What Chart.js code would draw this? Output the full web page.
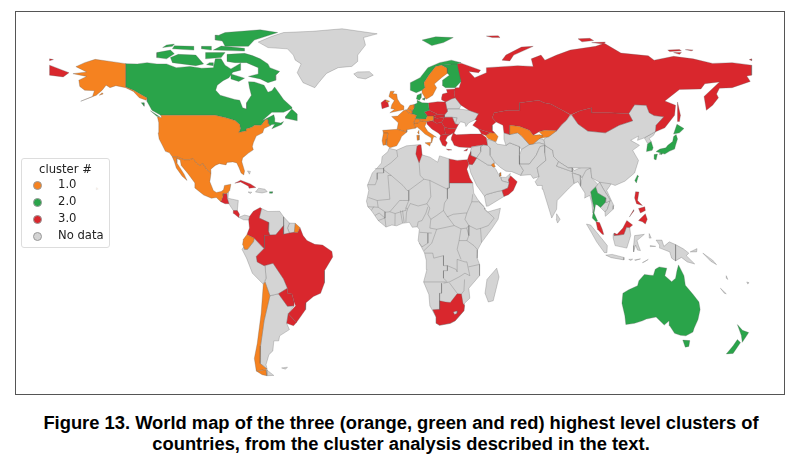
<!DOCTYPE html>
<html>
<head>
<meta charset="utf-8">
<title>World map of clusters</title>
<script src="https://cdn.jsdelivr.net/npm/chart.js@4"></script>
<style>
  html, body { margin: 0; padding: 0; background: #fff; }
  #frame { position: absolute; left: 15px; top: 11px; width: 768px; height: 382px; border: 1px solid #555; }
  #map { filter: blur(0.35px); }
  #legend { position: absolute; left: 21px; top: 158px; width: 87px; height: 88px; border: 1px solid #ddd; border-radius: 3px;
    background: rgba(255,255,255,0.85); font: 11.6px "DejaVu Sans", sans-serif; color: #222; }
  #legend .title { position: absolute; left: 0; right: 0; top: 3px; text-align: center; }
  #legend .row { position: absolute; left: 36px; white-space: nowrap; }
  #legend .dot { position: absolute; left: 11px; width: 7px; height: 7px; border-radius: 50%; border: 0.5px solid #999; }
  #caption { position: absolute; left: 0; width: 802px; top: 412px; text-align: center;
    font: bold 18.35px/21px "Liberation Sans", Arial, sans-serif; color: #000; white-space: nowrap; }
</style>
</head>
<body>
<div id="frame"><canvas id="map" width="768" height="382"></canvas></div>
<div id="legend"></div>
<div id="caption">Figure 13. World map of the three (orange, green and red) highest level clusters of<br>countries, from the cluster analysis described in the text.</div>
<script>
// country outlines as [lon, lat]
var alaska = [[-141,69.6],[-148,70.4],[-156.6,71.3],[-162,70],[-166.5,68.4],[-161,66.3],[-168,65.6],[-161,64.5],[-165,63],[-164.5,60.5],[-162,59],[-157,58.8],[-158,56.5],[-164,54.6],[-156,57],[-153,59],[-151,61],[-149,60],[-146,60.8],[-141,60],[-137,58.5],[-134,56],[-130.5,55],[-130,55.9],[-137,59],[-141,60.3]];
var kodiak = [[-154.5,57],[-152.5,57.5],[-153,58]];
var hawaii = [[-156,19.2],[-155,19.6],[-155.8,20.2]];
var usa = [[-123,49],[-95.15,49],[-89.6,48],[-84.9,46.9],[-82.5,45.3],[-82.1,43.6],[-83,42.1],[-79,42.8],[-79.2,43.5],[-76.3,44.2],[-74.8,45],[-71.5,45],[-70.3,46.2],[-69,47.4],[-67.8,47.1],[-67.8,45.7],[-67,44.8],[-70,43.7],[-70.7,42],[-74,40.7],[-75.5,38],[-76,36.5],[-75.5,35.2],[-78,33.9],[-81,32],[-81.4,30.5],[-80,26.8],[-80.4,25.2],[-81.8,26],[-82.8,28],[-84,30],[-86,30.4],[-89,30.2],[-89.5,29.2],[-93,29.7],[-95,29],[-97.3,27.5],[-97.2,25.9],[-99.5,27.5],[-101.4,29.8],[-103,29],[-104.7,30],[-106.5,31.8],[-108.2,31.3],[-111,31.3],[-114.8,32.5],[-117.1,32.5],[-118.5,34],[-120.6,34.6],[-122,36.8],[-123.8,39.5],[-124.3,42],[-124,46],[-124.7,48.4],[-122.5,48]];
var mexico = [[-117.1,32.5],[-114.8,32.5],[-111,31.3],[-108.2,31.3],[-106.5,31.8],[-104.7,30],[-103,29],[-101.4,29.8],[-99.5,27.5],[-97.2,25.9],[-97.8,22.5],[-96,19],[-94.5,18.2],[-92,18.6],[-90.8,19.3],[-90.3,21],[-87,21.5],[-87.6,19],[-88.2,18.5],[-89.1,17.8],[-91,17.8],[-91,16.8],[-92.2,14.5],[-94.5,16.2],[-97,15.9],[-101,17.2],[-105.5,20],[-105.5,22],[-109,25.7],[-112.5,29],[-113,31.2],[-114.8,31.8],[-114.7,30],[-111,25.5],[-109.5,23],[-112,24.7],[-115,28],[-116,30.5]];
var frenchGuiana = [[-54,5.9],[-51.6,4.2],[-52.8,2.2],[-54.5,2.3]];
var ecuador = [[-75,-0.1],[-78.8,1.4],[-80.6,-0.5],[-81,-2.5],[-80,-4.5],[-78.5,-4.5],[-75.5,-1.5]];
var chile = [[-70.4,-18.4],[-69.5,-17.5],[-67,-23],[-70,-33],[-71.8,-43],[-72,-50],[-68.4,-52.3],[-74,-53],[-75,-48],[-73.5,-42],[-71.5,-30]];
var fuegoChile = [[-69,-52.5],[-68.6,-54.9],[-71,-54.5],[-74,-53]];
var unitedKingdom = [[-5.5,50],[1.4,51.2],[1.7,52.7],[0,53.5],[-1.6,55.5],[-2,57.5],[-4,57.6],[-3.2,58.6],[-5.2,58.6],[-6,56.5],[-3.2,54.9],[-4.5,53.2],[-5,51.7],[-3,51.4]];
var northernIreland = [[-7.3,55.1],[-5.6,54.6],[-6.5,54.1],[-7.6,54.5]];
var portugal = [[-9.5,38.8],[-8.8,41.9],[-6.5,41.9],[-7,39.5],[-7.4,37.2],[-9,37]];
var spain = [[-8.8,41.9],[-9.2,43],[-1.8,43.4],[3.2,42.3],[0.5,40.5],[-0.3,39],[-2,36.8],[-5.5,36],[-7.4,37.2],[-7,39.5],[-6.5,41.9]];
var france = [[-1.8,43.4],[-1.2,46],[-4.6,48.5],[-1.5,48.7],[1.6,50.9],[2.5,51.1],[4.2,49.9],[8.2,49],[7.5,47.6],[6.7,46],[7.5,43.8],[3.2,43.2],[3.2,42.3]];
var corsica = [[8.7,42],[9.4,43],[9.5,41.4]];
var belgium = [[2.5,51.1],[4,51.4],[6,50.8],[6,49.5],[4.2,49.9]];
var netherlands = [[3.5,51.4],[4.8,53],[7,53.3],[7,52],[6,50.8],[4,51.4]];
var sweden = [[11,59],[12.5,60],[12,62],[14.5,65],[18,68.5],[21,69],[23.8,67.8],[24,65.8],[21,64],[17.3,61.5],[18.5,60],[16.5,57],[14.5,56],[13,55.4],[11,58]];
var austria = [[9.5,47.5],[13,47.5],[13.7,48.7],[17,48.7],[17,47],[13.5,46.5],[10,46.8]];
var switzerland = [[6.7,46],[7.5,47.6],[9.5,47.5],[10,46.8],[9,45.9]];
var italy = [[6.7,46],[9,45.9],[10,46.8],[13.5,46.5],[12.4,44.5],[14,42.5],[18.4,40.2],[17,40.5],[16.5,39.5],[16,38],[15.7,40],[12.5,41.5],[10.5,43],[8.5,44.3],[7.5,43.8]];
var sicily = [[12.5,38],[15.5,38.2],[15,36.7]];
var sardinia = [[8.3,41],[9.6,41],[9.5,39.1],[8.5,39]];
var azerbaijan = [[44.5,41.2],[46,42],[48.5,41.8],[50,40.5],[49,38.5],[48.5,38.5],[44.8,39.7],[43.5,41]];
var uzbekistan = [[56,45],[61,44.5],[66,43],[68,41],[71,41.2],[73,40.8],[68,37.5],[66,37.3],[62,40.8],[60,42],[56,41.3]];
var kyrgyzstan = [[71,42.4],[74,43],[80,42.8],[76,40.4],[71,39.7],[71,41.2],[73,40.8]];
var kuwait = [[46.5,29.2],[47.7,30],[48.6,28.5],[47.5,28.3]];
var qatar = [[50.8,24.6],[51.7,24.9],[51.5,26.2],[50.9,26]];

var canada = [[-123,49],[-95.15,49],[-89.6,48],[-84.9,46.9],[-82.5,45.3],[-82.1,43.6],[-83,42.1],[-79,42.8],[-79.2,43.5],[-76.3,44.2],[-74.8,45],[-71.5,45],[-70.3,46.2],[-69,47.4],[-67.8,47.1],[-67.8,45.7],[-67,44.8],[-66,45.3],[-64.5,45.4],[-66,43.6],[-61,45.3],[-60,46.5],[-61.5,45.9],[-64.5,46.3],[-64.5,47.7],[-65,49.2],[-71,46.8],[-66,50.2],[-60,50.2],[-56,51.6],[-55.7,52.2],[-60,55.3],[-62,57.5],[-64.6,60.3],[-66,58.8],[-68,58.2],[-70,61],[-75,62.3],[-78,62.4],[-77.5,60],[-76.5,57],[-79,54],[-79,51.5],[-81,52],[-82.5,55],[-85,55.3],[-92.5,57],[-94.8,59],[-94,61],[-91,62.8],[-88,64],[-86,66.2],[-82,67],[-82,69.8],[-87,67.5],[-90,69],[-92,71.5],[-95,71.5],[-96,68],[-102,67.8],[-108,68.5],[-115,68],[-120,69.5],[-125,69.5],[-130,70],[-135,69.5],[-141,69.6],[-141,60.3],[-137,59],[-130,55.9],[-130,54.5],[-127.5,51]];
var baffin = [[-80,73.7],[-76,72.8],[-72,71.5],[-68,69.5],[-67,68],[-62,66.5],[-64,65],[-64,63],[-68,62],[-72,63.5],[-78,64.5],[-73,65.5],[-73,68],[-79,70],[-85,70],[-89,70.5],[-89,73.3]];
var victoria = [[-117,70],[-105,68.8],[-101,69.5],[-105,73],[-114,73.3],[-118,72]];
var banks = [[-125,72],[-120,71.5],[-116,73.5],[-118,75],[-125,74]];
var ellesmere = [[-90,76.5],[-78,76.5],[-75,79],[-63,82],[-72,83.1],[-90,82],[-93,81]];
var devon = [[-96,75],[-80,74.6],[-80,75.7],[-92,76.6]];
var axelHeiberg = [[-95,79],[-86,78],[-88,80.5],[-95,81]];
var melville = [[-117,75.5],[-106,75],[-106,76.5],[-116,76.7]];
var bathurst = [[-102,75.5],[-97,75],[-97,76.5],[-102,76.5]];
var princePatrick = [[-122,76],[-117,76.5],[-116,77.4],[-120,77]];
var somerset = [[-100,74],[-90,74],[-92,72],[-100,71.5]];
var kingWilliam = [[-99.5,69.2],[-96,68.8],[-96,70],[-98,70]];
var southampton = [[-87,65.5],[-80,63.8],[-83,62.5],[-87,63.5]];
var newfoundland = [[-59,47.8],[-53,46.8],[-53,49.5],[-55.8,51.5],[-59,48.5]];
var vancouver = [[-128.3,50.8],[-123.5,48.4],[-125,48.6]];
var haida = [[-133,54],[-131.5,54],[-131.5,52.6]];
var puertoRico = [[-67.2,18.5],[-65.6,18.5],[-65.8,17.9],[-67.2,17.9]];
var germany = [[6,50.8],[7,52],[7,53.3],[8.8,54],[8.5,55],[11,54],[14.2,53.9],[14.7,51],[12.2,50.3],[13.7,48.7],[13,47.5],[7.5,47.6],[8.2,49],[6,49.5]];
var denmark = [[8.1,55.5],[8.5,57],[10.6,57.7],[10.5,56],[9.7,55]];
var zealand = [[11,55.5],[12.5,56],[12.2,55]];
var norway = [[5,59],[5,62],[10,64],[14,68],[20,70],[26,71],[31,70],[29,69.5],[26,69.5],[21,69],[18,68.5],[14.5,65],[12,62],[12.5,60],[11,59],[8,58]];
var svalbard = [[11,79],[16,76.8],[22,78],[27,80],[18,80.3]];
var finland = [[24,65.8],[23.8,67.8],[21,69],[26,69.5],[29,69.5],[31,62.5],[28,60],[23,60],[21.3,61],[21.5,63],[25,65]];
var southKorea = [[126.1,34.5],[126.6,37.5],[128.5,38.5],[129.5,36],[129,35]];
var honshu = [[131,34.5],[133,35.5],[136,36],[137,37],[139.5,38.5],[140,40.5],[141.3,41.3],[142,39.5],[141,37],[140.5,35.5],[138,34.7],[135.5,33.5],[133,34]];
var hokkaido = [[140,41.5],[141.7,45.4],[145.3,43.7],[143,42]];
var kyushu = [[130,33.3],[131.7,33.5],[131,31.2],[130.2,31.5]];
var shikoku = [[132.5,33.5],[134.5,34.2],[134,33.3]];
var taiwan = [[120.1,23],[121.5,25.2],[121.9,24.7],[120.9,22]];
var thailand = [[97.5,18.5],[100,20.4],[101,18],[105.3,16],[105,14.3],[102.5,12.2],[100.9,13.2],[100,13.4],[99.2,10],[101,6.8],[100.2,6.5],[98.3,8],[98.7,10],[99.2,12],[98.3,15]];
var australia = [[142.5,-10.7],[145.3,-15],[146,-18.8],[150,-22.5],[153,-25.5],[153.6,-28.5],[152.5,-32.5],[150.5,-36],[149.9,-37.5],[146.3,-39],[143.5,-38.8],[140.5,-38],[138,-35],[137.7,-33],[135.2,-34.7],[131,-31.5],[126,-32.3],[124,-33],[120,-34],[115.5,-34.5],[115,-31],[113.5,-26],[114,-22],[117,-20.6],[121.5,-19],[122.2,-17],[125,-14.5],[128,-14.8],[129.6,-14.9],[130.6,-12.4],[132.6,-11.5],[136.5,-12],[135.5,-15],[139,-17.4],[141,-16],[141.7,-13]];
var tasmania = [[144.7,-40.7],[148.3,-40.9],[147.8,-43.2],[146,-43.5]];
var newZealandN = [[172.7,-34.5],[175.3,-36.8],[178.5,-37.7],[177,-39.5],[175.2,-41.6],[174.7,-38.8]];
var newZealandS = [[172.7,-40.5],[174.3,-41.7],[170.5,-46],[167,-46.2],[170.5,-43]];

var chukotka = [[-180,69],[-175,67.5],[-170,66],[-173,64.3],[-180,65]];
var wrangel = [[-180,71.5],[-178,71.2],[-180,70.8]];
var wrangelEast = [[178.8,71.2],[180,71.5],[180,70.8]];
var russia = [[28,60],[30,60],[31,62.5],[29,66],[29,69.5],[31,69.8],[41,67],[40,66],[35,66.5],[38,64],[44,66],[44,68],[54,68.5],[60,68.8],[68,68.5],[67,71.5],[72,73],[74,71],[80,73],[87,75],[100,76.5],[104.5,77.7],[113,73.8],[127,72.7],[130,71],[140,72.5],[150,71.5],[160,69.7],[170,70],[180,69],[180,65],[177.5,64.7],[179.3,62.5],[170,60],[163.5,59.8],[162,57.5],[163,56],[160,53],[156.8,51],[155.6,56.5],[163.5,62.3],[156,61.6],[154,59.5],[143,59.3],[135.5,54.7],[141,53],[140.5,49],[135.5,44],[131,42.5],[130.7,42.3],[131,45],[135,48.4],[130,48.9],[127.5,50],[126,53],[120,53.2],[117,49.7],[113,49.8],[107,50],[98,50],[98,52],[92,50.8],[87.3,49.2],[83,51],[77,53.5],[73.5,54],[71,55],[61,54],[61,51],[55,51],[48,50],[47,48],[49,46.3],[47,45],[47,43],[48.5,41.8],[46,42],[40,43.5],[37,45],[39,47],[38.2,47.2],[40,49.6],[35,51],[31,53],[28,56],[27.5,57.5]];
var novayaZemlya = [[52,71],[56,70.7],[58,73],[68,76.5],[62,76.2],[54,73]];
var franzJosef = [[44,80.6],[50,80.7],[51,80],[47,80]];
var severnayaN = [[91,79.5],[97,79.7],[99,78.8],[93,78.3]];
var severnayaS = [[98,78],[105,78.2],[104,77.4]];
var newSiberianA = [[137,75],[143,75.2],[144,74.7],[138,74.4]];
var newSiberianB = [[146,75.2],[150,75],[149,74.7]];
var newSiberianC = [[140,74],[144,74],[143,73.3]];
var sakhalin = [[142,54.3],[143.5,49],[143,46.5],[142,46.5],[142,50]];
var kazakhstan = [[47,48],[48,50],[55,51],[61,51],[61,54],[71,55],[73.5,54],[77,53.5],[83,51],[87,49.2],[85,47],[82.5,45.2],[80,42.8],[74,43],[71,42.4],[68,41],[66,43],[61,44.5],[56,45],[56,41.3],[53,42],[52.5,45],[49,46.3]];
var mongolia = [[87.7,49.2],[92,50.8],[98,52],[98,50],[107,50],[113,49.8],[117,49.7],[119,46.8],[112,45],[105,42],[96,42.7],[91,45.5]];
var turkey = [[26,40],[27,42],[28.5,41.2],[36,41.5],[41.5,41.5],[44,40],[44.5,37],[42.5,37.2],[36.5,36.5],[36,36],[32,36.2],[30,36.3],[27.5,37],[26.3,39]];
var georgia = [[40,43.5],[46,42],[44.5,41.2],[43.5,41],[41.5,41.5]];
var cyprus = [[32.4,34.8],[34.5,35.7],[34,34.8]];
var levant = [[34.3,31.3],[35,33],[36,34.5],[36,33],[39,32],[37.5,30],[36.8,29.3],[35,29.5]];
var egypt = [[25,31.6],[29,31],[32,31.2],[34.3,31.3],[34.9,29.4],[34,27.5],[35.5,24],[37,22],[25,22]];
var tunisia = [[9,37],[10.5,37.2],[11,33.2],[9.5,30],[7.8,33.5],[8.4,36.5]];
var oman = [[56.4,24.9],[59.8,22.5],[57.8,19],[55.3,17.3],[53,16.6],[52,19],[55,20],[55.7,22],[55.3,23.2]];
var southAfrica = [[16.5,-28.6],[20,-28.4],[20,-25],[23,-25.5],[25.5,-25.7],[29,-22.2],[31.2,-22.3],[32,-26],[32.8,-26.9],[32.5,-29],[28,-33],[25.5,-34],[20,-34.8],[18.3,-34],[18.2,-31.5]];
var ireland = [[-10,54],[-8,55.2],[-7.3,55.1],[-7.6,54.5],[-6.5,54.1],[-6,52.5],[-9.5,51.6]];
var poland = [[14.2,53.9],[19,54.4],[23,54.3],[24,50.5],[22.5,49.1],[19,49.4],[14.7,51]];
var baltics = [[21,56],[21.5,57.5],[24,58],[23.5,59.3],[28,59.5],[27.5,57.5],[28,56],[26,55.5],[23,54.3],[21,55.2]];
var czechia = [[12.2,50.3],[14.7,51],[19,49.4],[17,48.7],[13.7,48.7]];
var slovakia = [[17,48.2],[17,48.7],[19,49.4],[22.5,49.1],[22.5,48.2],[18.8,47.8]];
var hungary = [[16.2,46.8],[17,47],[17,48.2],[18.8,47.8],[22.5,48.2],[21,46.2],[18.5,45.8]];
var romania = [[21,46.2],[22.5,48.2],[26.5,48.2],[28,45.5],[29.7,45.3],[28.6,43.8],[25,43.7],[22.5,44.2]];
var bulgaria = [[22.5,44.2],[25,43.7],[28.6,43.8],[27.5,42],[26,41.5],[23,41.4]];
var balkans = [[13.5,45.5],[13.5,46.5],[16.2,46.8],[18.5,45.8],[21,46.2],[22.5,44.2],[23,41.4],[20.5,41],[19.3,41.9],[16,43.5]];
var greece = [[20.5,41],[23,41.4],[26,41.5],[24,40.5],[23,39],[24,38],[23,36.5],[21.5,37],[20,39.5]];
var crete = [[23.5,35.5],[26.3,35.2],[24.5,35]];
var guatemala = [[-92.2,14.5],[-91,16.8],[-91,17.8],[-89.1,17.8],[-88.9,15.9],[-88,13.7],[-90,13.7]];
var costaRica = [[-85.8,11],[-83.7,11],[-82.6,9.5],[-83,8.2],[-85.5,9.8]];
var cuba = [[-85,21.9],[-82,23.1],[-77,21.6],[-74.2,20.2],[-77.7,19.9],[-78,20.7],[-82,22.4]];
var colombia = [[-77.4,8.7],[-75.5,10.7],[-72,12.2],[-71.3,11.8],[-72.5,8],[-67.5,6.2],[-67.8,2.8],[-67,1.2],[-69.8,1.1],[-69.8,-4.2],[-70.5,-3.8],[-75,-0.1],[-78.8,1.4],[-77.5,4],[-77.9,7.2]];
var brazil = [[-51.6,4.2],[-50,1],[-48,-1],[-44,-2.5],[-40,-2.8],[-35.2,-5.3],[-34.8,-7.5],[-39,-13],[-39,-17.8],[-41,-22],[-44.7,-23.3],[-48.5,-25.8],[-48.7,-28.5],[-53.4,-33.7],[-57.6,-30.2],[-53.8,-27],[-54.6,-25.5],[-55.7,-22.3],[-58,-22],[-58,-20],[-60,-16.3],[-65.4,-10],[-70,-11],[-73.5,-9.5],[-74,-7.3],[-70,-4.2],[-69.8,1.1],[-67,1.2],[-64,1.3],[-60,5],[-60,1.5],[-57,2],[-54.5,2.3],[-52.8,2.2]];
var paraguay = [[-58,-20],[-62.6,-22.2],[-58,-27.2],[-54.6,-27],[-54.6,-25.5],[-55.7,-22.3],[-58,-22]];
var uruguay = [[-57.6,-30.2],[-53.4,-33.7],[-54.9,-35],[-58.4,-34]];
var luzon = [[120.5,18.5],[122.2,18.4],[121.5,15],[124,13],[121,13.7],[120,16]];
var mindanao = [[122,7],[125.5,9.7],[126.5,7.5],[125.5,5.6],[124,6.5]];
var palawan = [[117.3,8.4],[119.5,11.3],[119.5,10.7]];
var visayas = [[122,11.8],[123,10],[125.5,11],[125.2,12.5]];
var malaya = [[100.2,6.5],[102,6.2],[103.4,3.5],[104.2,1.4],[103.4,1.5],[101,3.5]];
var sabahSarawak = [[109.6,2],[111,1.5],[114,4],[116,7],[119,5.2],[117.5,4.2],[115.8,4.3],[114.5,1.5],[112,1.2],[109.6,1]];

var greenland = [[-73,78.2],[-68,76],[-58,75.5],[-55,73],[-54,71],[-51,69.5],[-53,66],[-50,62],[-44,60],[-42,62],[-38,65.7],[-32,68],[-25,68.5],[-22,70.5],[-22,73],[-20,75],[-18,77],[-19,80],[-12,81.5],[-30,83.5],[-45,82.5],[-60,82],[-66,80.5]];
var iceland = [[-24,65.5],[-22,64],[-18,63.5],[-14,65],[-16,66.4],[-22,66.3]];
var centralAmerica = [[-89.1,17.8],[-88.2,18.5],[-88.5,15.9],[-83.2,15],[-83.7,11],[-85.8,11],[-87.5,13],[-88,13.7],[-88.9,15.9]];
var panama = [[-83,8.3],[-80,9.2],[-77.4,8.7],[-77.9,7.2],[-80.5,7.3]];
var venezuela = [[-71.3,11.8],[-68,10.6],[-62,10.7],[-60,8.5],[-60,5],[-64,1.3],[-67,1.2],[-67.8,2.8],[-67.5,6.2],[-72.5,8]];
var guyana = [[-60,8.5],[-57,6],[-58,4],[-57,2],[-60,1.5],[-60,5]];
var suriname = [[-57,6],[-54,5.9],[-54.5,2.3],[-57,2],[-58,4]];
var peru = [[-80.3,-3.4],[-81.3,-4.5],[-79,-8],[-76,-14],[-70.4,-18.4],[-69,-16],[-69.5,-11],[-70,-11],[-73.5,-9.5],[-74,-7.3],[-70,-4.2],[-70.5,-3.8],[-75,-0.1],[-75.5,-1.5],[-78.5,-4.5],[-80,-4.5]];
var bolivia = [[-69.5,-11],[-65.4,-10],[-60,-16.3],[-58,-20],[-62.6,-22.2],[-67,-23],[-69.5,-17.5],[-69,-16]];
var argentina = [[-67,-23],[-62.6,-22.2],[-58,-27.2],[-54.6,-27],[-57.6,-30.2],[-58.4,-34],[-57,-36.5],[-62,-39],[-62.5,-41],[-65,-41],[-65.5,-45],[-67.5,-46.5],[-69,-50.5],[-68.4,-52.3],[-72,-50],[-71.8,-43],[-70,-33]];
var fuegoArgentina = [[-68.6,-52.6],[-65,-54.8],[-68.6,-54.9]];
var falklands = [[-61,-51.8],[-58,-51.5],[-59,-52.3]];
var hispaniola = [[-74.4,18.4],[-72.8,19.9],[-69.5,19.5],[-68.4,18.5],[-71,18]];
var jamaica = [[-78.2,18.4],[-76.3,18.3],[-77,17.8]];
var bahamas = [[-78.5,26.8],[-77,26.6],[-77.5,25.5]];
var africa = [[-5.9,35.8],[-2,35.1],[3,36.8],[10,37.3],[11,33.2],[15,32.3],[19,30.3],[20,32.8],[25,31.6],[25,22],[37,22],[37.5,18],[39.5,15.5],[43.2,12],[43.2,11.5],[44.5,10.4],[51.2,11.9],[50,7.5],[47,4],[41.5,-1.8],[39.5,-4.7],[39.3,-8],[40.5,-10.5],[40.5,-15],[35,-20],[35.5,-24],[32.8,-26],[32.5,-29],[28,-33],[25.5,-34],[20,-34.8],[18.3,-34],[18.2,-31.5],[15,-27],[14.5,-22.5],[11.8,-17.5],[13.5,-12.5],[13.2,-9],[12.3,-6],[9,-1],[9.6,3.5],[8.5,4.5],[6,4.3],[4.5,6.3],[1,5.9],[-2,4.9],[-4.5,5.2],[-7.5,4.4],[-11.5,7],[-13.2,9],[-15,11],[-16.8,12.5],[-17.5,14.7],[-16.3,19],[-17,21],[-14.5,26],[-12,28],[-9.8,30],[-9.5,32.5],[-6.5,34.5]];
var lesotho = [[27,-29.5],[29,-29],[29,-30],[27.7,-30.5]];
var madagascar = [[49.3,-12],[50.5,-15.5],[47.5,-25],[45,-25.5],[43.3,-22],[44.3,-16.5]];
var ukraine = [[24,50.5],[24,51.5],[30,51.5],[35,51],[40,49.6],[38.2,47.2],[35,46],[33.5,44.5],[33,46],[30.7,46.4],[29.7,45.3],[28,45.5],[29,48],[26.5,48.2],[22.5,48.2],[22.5,49.1]];
var belarus = [[23,54.3],[26,55.5],[28,56],[31,53],[30,51.5],[24,51.5],[24,50.5]];
var moldova = [[26.5,48.2],[29,48],[30,46.4],[28,45.5]];
var china = [[73.5,39.5],[80,42.8],[82.5,45.2],[85,47],[87.5,49.2],[91,45.5],[96,42.7],[105,42],[112,45],[119,46.8],[117,49.7],[120,53.2],[126,53],[127.5,50],[130,48.9],[135,48.4],[131,45],[130.7,42.5],[125,40],[121.5,39],[122,40.7],[118,39],[122.5,37],[119,35],[122,31],[120,26],[115,22.7],[110,21],[108,21.6],[102,22.3],[98,24],[97.5,28],[92,28],[86,28],[81,30.5],[78.5,32.5],[78,35],[74,37]];
var northKorea = [[125,40],[130.7,42.5],[129.7,41],[127.5,39.7],[128.5,38.5],[126.6,37.8]];
var myanmar = [[92.3,20.7],[93,24],[95,27],[97.5,28],[98,24],[101.1,21.5],[100,20.4],[97.5,18.5],[98.3,15],[99.2,12],[98.6,10],[98,14],[97,17],[94.3,16],[94.5,18]];
var laos = [[101.1,21.5],[102,22.3],[104,19.5],[106.5,16.5],[107.5,15],[105.5,14.2],[105.3,16],[101,18],[100,20.4]];
var vietnam = [[102,22.3],[105,23],[108,21.6],[105.7,19],[109.3,13],[109,11.5],[105.5,9],[105,8.7],[104.8,10.4],[106,11.5],[107.5,15],[106.5,16.5],[104,19.5]];
var cambodia = [[102.5,12.2],[105,14.3],[105.5,14.2],[107.5,15],[106,11.5],[104.8,10.4]];
var bangladesh = [[88,26],[92,25],[92.3,20.7],[91,22.5],[89,21.8]];
var india = [[74,37],[78,35],[78.5,32.5],[81,30.5],[80,28.7],[88,26.5],[88.1,28],[89,27],[96,29.3],[97,27.5],[93,24],[92,25],[88,26],[89,21.8],[86.5,20],[80.3,15],[80,11.5],[77.5,8],[73,19.5],[72.6,21],[70,21],[69,22.5],[71,24.5],[70,28],[74.5,31],[74,34]];
var nepal = [[80,28.7],[81,30.5],[86,28],[88.1,28],[88,26.5]];
var pakistan = [[74,37],[74,34],[74.5,31],[70,28],[71,24.5],[68,23.8],[66.7,25.3],[61.6,25],[63,27],[61,29.5],[66,29.5],[69.5,33],[71.5,36.5]];
var afghanistan = [[61,29.5],[66,29.5],[69.5,33],[71.5,36.5],[74.8,37.2],[71,38],[66,37.3],[62,35.3],[60.9,33]];
var tajikistan = [[68,37.5],[71,39.7],[73,39.5],[74.8,37.2],[71,38],[66,37.3]];
var turkmenistan = [[53,42],[56,41.3],[60,42],[62,40.8],[66,37.3],[62,35.3],[61,36.5],[56,38],[54,37],[53,39.5]];
var sriLanka = [[80,9.7],[81.8,7.5],[80.5,6],[79.8,7.5]];
var iran = [[44.5,39.5],[48.5,38.5],[49.5,37.5],[54,37],[56,38],[61,36.5],[60.9,33],[61,29.5],[63,27],[61.6,25],[57,26.5],[54,26.7],[51.5,28],[48.5,30],[46,33],[46,36],[44.5,37]];
var iraq = [[42.5,37.2],[44.5,37],[46,36],[46,33],[48.5,30],[47.7,29.3],[46.5,29],[44.7,29.2],[39,32],[41.2,34.5],[41.2,36.5]];
var syria = [[36.5,36.3],[42.5,37.2],[41.2,36.5],[41.2,34.5],[39,32],[36,33],[35.9,35]];
var saudiArabia = [[34.9,29.4],[36.8,29.3],[37.5,30],[39,32],[44.7,29.2],[46.5,29],[47.7,28.5],[48.8,27.5],[50.2,25.5],[51,24.6],[52,22.8],[55.7,22],[55,20],[52,19],[49,18.5],[44,17.4],[43,16.7],[39,21],[36,26]];
var uae = [[51.5,24.3],[54,24.2],[56.3,25.8],[55.3,23.2],[55.7,22],[52,22.8]];
var yemen = [[43,16.7],[44,12.7],[45,12.8],[53,16.6],[52,19],[49,18.5],[44,17.4]];
var sumatra = [[95.3,5.6],[97.5,5.2],[104,-1],[106,-3],[105.8,-5.8],[104.5,-5.8],[100.5,-1.5],[98,2]];
var java = [[105.2,-6.8],[108.5,-6.5],[114.5,-7.7],[114.5,-8.7],[108,-7.8]];
var borneo = [[109,1.3],[109.6,2],[109.6,1],[112,1.2],[114.5,1.5],[115.8,4.3],[117.5,4.2],[118,1],[116,-4],[110,-3],[109,0]];
var sulawesi = [[119.5,-5.5],[120.5,-2.8],[121.5,-4.8],[123,-5],[122,-3],[121.2,-1],[125,1.5],[120,1],[119.5,-3]];
var halmahera = [[127.5,1.8],[128.5,0],[127.8,0]];
var seram = [[128,-3],[130.8,-3.3],[128,-3.4]];
var newGuinea = [[131,-0.8],[134,-0.8],[135,-3.3],[137.8,-1.5],[141,-2.6],[145,-4.3],[147.8,-6],[146.5,-7],[150.8,-10.3],[147,-9.5],[144,-7.7],[141,-9.1],[139,-8],[138,-5.5],[133,-4],[132.8,-2.8]];
var newBritain = [[148.5,-5.5],[152,-4.2],[151.8,-5.5]];
var solomons = [[155,-6],[160,-8.8],[162,-10.6],[159,-9.2]];
var vanuatu = [[167,-15],[167.8,-16.5],[167,-16]];
var fiji = [[177.5,-17.5],[178.7,-17.8],[178,-18.3]];
var newCaledonia = [[164,-20],[167,-22.2],[166,-22]];
var timor = [[124,-9.8],[127,-8.5],[125,-9.5]];
var sumbawa = [[117,-8.5],[119,-8.4],[118,-8.9]];
var flores = [[120,-8.7],[123,-8.3],[120.5,-8.9]];

// inner borders of the no-data countries, thin lines only
var borderLines = [
  [[-2,35.1],[-1.5,32.5],[-5,30],[-8.7,28],[-8.7,27.3]], [[-8.7,27.7],[-13.2,27.7]], [[-8.7,27.3],[-8.7,26],[-12,26],[-12,23.4],[-13,21.3],[-17,21.3]],
  [[-8.7,27.3],[-4.8,25],[-6.5,25],[-5.5,15.5],[-12,15],[-16.5,16.2]], [[-4.8,25],[1.2,21],[3.3,19],[4.2,19],[4.2,15],[1,15],[-0.5,15],[-5.5,10.5]],
  [[4.2,19],[12,23.5]], [[9.5,30],[10,25],[12,23.5]], [[25,20],[24,19.5],[15,23],[12,23.5]], [[25,22],[25,20],[24,20],[24,15.7],[22.5,14],[22,11]],
  [[15,23],[15.5,16.5],[13.5,13.7]], [[15.5,7.5],[18.5,9],[22,11]], [[13.5,13.7],[15,12],[14,9.5],[15.5,7.5]],
  [[2.7,12],[3.6,11.7],[5,13.8],[9,12.8],[13.5,13.7]], [[2.7,6.4],[3,10],[3.6,11.7]], [[8.5,4.5],[9,6.5],[11,7],[13,10],[14,12.5]],
  [[-5.5,10.5],[-2.8,9.8],[2.3,11],[2.7,12],[4.2,15]], [[-2.9,5],[-2.8,9.8]], [[-0.1,11],[1,6]], [[1.8,6.2],[1,11]],
  [[-12,15],[-11.5,12.3],[-8,10.5],[-8,8],[-11.5,7]], [[-7.5,4.4],[-8,8]], [[-8,10.3],[-5.5,10.5]], [[-11.5,12.3],[-16.8,12.5]], [[-15,11],[-13.7,12.6]], [[-13.2,9],[-11,10],[-8,8]],
  [[37,17.5],[36.5,14.5],[34,10],[33,7.5],[35,5]], [[22,11],[24,8.5],[27,9.5],[33,10],[34,10]], [[24,8.7],[27.5,5],[31,3.7],[33.9,4],[35,5]],
  [[36.5,14.5],[40,14.5],[43,12.5]], [[43.2,11.5],[48,8],[45,5],[41.5,4],[39,3.5],[35,5]], [[41.5,-1.8],[41,3.9]], [[35,5],[35,1],[34,-1],[37.6,-3],[39.5,-4.7]], [[33.9,4],[35,1]], [[34,-1],[30,-1],[31,3.7]],
  [[15.5,7.5],[15,4],[18.5,3.5],[27.5,5]], [[9.8,2.3],[16,2]], [[14,2],[14,-2],[11,-3.5],[9.5,-2]], [[18.5,3.5],[16,-2],[12,-5]],
  [[12.3,-6],[16.5,-6],[17,-8],[22,-7],[22,-11],[24,-11],[24,-13]], [[24,-11],[28.5,-12.5],[29,-13.5],[29,-8.5]], [[30,-1],[29,-4.5],[31,-8.5]],
  [[40.5,-10.5],[34.8,-11.5]], [[33,-9.5],[34,-9.5],[35.5,-15],[33,-14]], [[29,-8.5],[33,-9.5]], [[33,-14],[30,-15.5],[25,-17.5],[22,-18]],
  [[24,-13],[22,-13],[22,-16],[24,-17.5]], [[11.8,-17.5],[23.5,-17.5]], [[21,-18],[21,-22],[20,-22],[20,-28.5]], [[25,-17.8],[29,-22]], [[32.8,-16.5],[32.5,-21],[31.2,-22.3]],
  [[141,-2.6],[141,-9.1]]
];

var cluster1 = [alaska, kodiak, hawaii, usa, mexico, frenchGuiana, ecuador, chile, fuegoChile, unitedKingdom, northernIreland, portugal, spain, france, corsica, belgium, netherlands, sweden, austria, switzerland, italy, sicily, sardinia, azerbaijan, uzbekistan, kyrgyzstan, kuwait, qatar];
var cluster2 = [canada, baffin, victoria, banks, ellesmere, devon, axelHeiberg, melville, bathurst, princePatrick, somerset, kingWilliam, southampton, newfoundland, vancouver, haida, puertoRico, germany, denmark, zealand, norway, svalbard, finland, southKorea, honshu, hokkaido, kyushu, shikoku, taiwan, thailand, australia, tasmania, newZealandN, newZealandS];
var cluster3 = [chukotka, wrangel, wrangelEast, russia, novayaZemlya, franzJosef, severnayaN, severnayaS, newSiberianA, newSiberianB, newSiberianC, sakhalin, kazakhstan, mongolia, turkey, georgia, cyprus, levant, egypt, tunisia, oman, southAfrica, ireland, poland, baltics, czechia, slovakia, hungary, romania, bulgaria, balkans, greece, crete, guatemala, costaRica, cuba, colombia, brazil, paraguay, uruguay, luzon, mindanao, palawan, visayas, malaya, sabahSarawak];
var noData = [greenland, iceland, centralAmerica, panama, venezuela, guyana, suriname, peru, bolivia, argentina, fuegoArgentina, falklands, hispaniola, jamaica, bahamas, africa, madagascar, ukraine, belarus, moldova, nepal, china, northKorea, myanmar, laos, vietnam, cambodia, bangladesh, india, pakistan, afghanistan, tajikistan, turkmenistan, sriLanka, iran, iraq, syria, saudiArabia, uae, yemen, sumatra, java, borneo, sulawesi, halmahera, seram, newGuinea, newBritain, solomons, vanuatu, fiji, newCaledonia, timor, sumbawa, flores];

var legendTitle = 'cluster #';
var legendLabels = ['1.0', '2.0', '3.0', 'No data'];
var colors = ['#f58220', '#2aa44a', '#d9272d', '#d4d4d4'];
var edgeColor = 'rgba(90,90,90,0.55)';

function toPoints(poly) {
  return poly.map(function(p) { return { x: p[0], y: p[1] }; });
}

function shape(poly, color) {
  var pts = toPoints(poly);
  pts.push(pts[0]);
  return { data: pts, showLine: true, fill: 'shape', backgroundColor: color, borderColor: edgeColor, borderWidth: 0.5, pointRadius: 0, tension: 0 };
}

function line(poly) {
  return { data: toPoints(poly), showLine: true, fill: false, borderColor: edgeColor, borderWidth: 0.5, pointRadius: 0, tension: 0 };
}

// the first dataset is painted last, so lines and Lesotho go before the colours, grey land at the end
var datasets = borderLines.map(line);
datasets.push(shape(lesotho, colors[3]));
[cluster1, cluster2, cluster3, noData].forEach(function(group, i) {
  group.forEach(function(poly) { datasets.push(shape(poly, colors[i])); });
});

new Chart(document.getElementById('map'), {
  type: 'scatter',
  data: { datasets: datasets },
  options: {
    responsive: false,
    animation: false,
    devicePixelRatio: 1,
    events: [],
    layout: { padding: 0 },
    plugins: { legend: { display: false }, tooltip: { enabled: false } },
    scales: {
      x: { type: 'linear', display: false, min: -197.2, max: 196.6 },
      y: { type: 'linear', display: false, min: -62.2, max: 90.2 }
    }
  }
});

// legend box
var box = document.getElementById('legend');
box.innerHTML = '<div class="title">' + legendTitle + '</div>';
legendLabels.forEach(function(label, i) {
  var top = 18 + i * 17;
  box.innerHTML += '<div class="dot" style="top:' + (top + 4) + 'px;background:' + colors[i] + '"></div>' +
    '<div class="row" style="top:' + top + 'px">' + label + '</div>';
});
</script>
</body>
</html>
